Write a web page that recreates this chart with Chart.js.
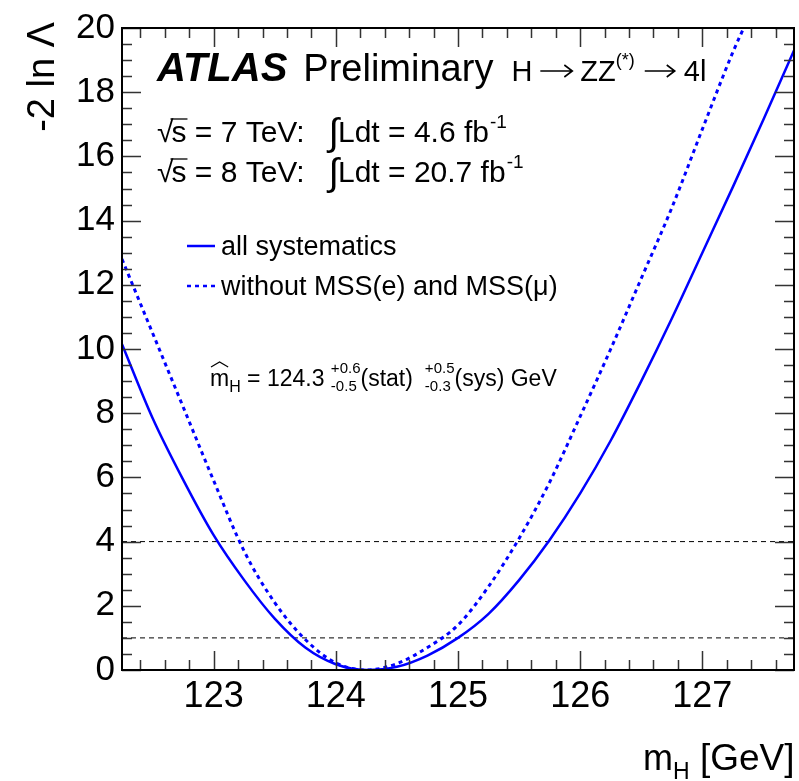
<!DOCTYPE html>
<html>
<head>
<meta charset="utf-8">
<script src="https://cdn.jsdelivr.net/npm/chart.js@4.4.1/dist/chart.umd.min.js"></script>
<style>
  body { margin: 0; background: #fff; }
  canvas { display: block; }
</style>
</head>
<body>
<canvas id="nllChart" width="799" height="781"></canvas>
<script>
// mass points (GeV)
const massAll = [122.25, 122.5, 122.75, 123.0, 123.25, 123.5, 123.75, 124.0, 124.25, 124.5, 124.75,
                 125.0, 125.25, 125.5, 125.75, 126.0, 126.25, 126.5, 126.75, 127.0, 127.25, 127.5, 127.75];
const nllAll = [10.15, 7.85, 5.93, 4.2, 2.8, 1.6, 0.7, 0.18, 0.0, 0.1, 0.45,
                1.0, 1.75, 2.8, 4.05, 5.5, 7.15, 9.0, 10.95, 13.0, 15.05, 17.15, 19.3];

const massNoMSS = [122.25, 122.5, 122.75, 123.0, 123.25, 123.5, 123.75, 124.0, 124.25, 124.5, 124.75,
                   125.0, 125.25, 125.5, 125.75, 126.0, 126.25, 126.5, 126.75, 127.0, 127.25, 127.35];
const nllNoMSS = [12.8, 10.5, 8.2, 5.9, 3.7, 2.1, 0.95, 0.22, 0.0, 0.2, 0.7,
                  1.4, 2.6, 4.1, 5.85, 7.9, 10.0, 12.2, 14.4, 16.85, 19.25, 20.1];

const refLevels = [1, 4];
const xTickLabels = [123, 124, 125, 126, 127];
const yTickLabels = [0, 2, 4, 6, 8, 10, 12, 14, 16, 18, 20];

const FONT = '"Liberation Sans", Arial, Helvetica, sans-serif';
const xMin = 122.25, xMax = 127.75;

function toPoints(xs, ys) {
    return xs.map((x, i) => ({ x: x, y: ys[i] }));
}

const datasets = [
    {
        label: 'all systematics',
        data: toPoints(massAll, nllAll),
        borderColor: '#0000ff',
        borderWidth: 2.5,
        pointRadius: 0,
        cubicInterpolationMode: 'monotone'
    },
    {
        label: 'without MSS(e) and MSS(\u03bc)',
        data: toPoints(massNoMSS, nllNoMSS),
        borderColor: '#0000ff',
        borderWidth: 3,
        borderDash: [4, 4],
        pointRadius: 0,
        cubicInterpolationMode: 'monotone'
    }
];
refLevels.forEach(function (lv) {
    datasets.push({
        label: 'ref' + lv,
        data: [{ x: xMin, y: lv }, { x: xMax, y: lv }],
        borderColor: '#000',
        borderWidth: 1,
        borderDash: [5, 4],
        pointRadius: 0
    });
});

// draws frame, inward ticks and all the text
const rootStyle = {
    id: 'rootStyle',
    afterDraw(chart) {
        const ctx = chart.ctx;
        const a = chart.chartArea;
        const xs = chart.scales.x, ys = chart.scales.y;
        ctx.save();

        // ticks
        ctx.strokeStyle = '#333';
        ctx.lineWidth = 1.5;
        ctx.beginPath();
        for (let i = 0; i <= 30; i++) {
            const v = 122.2 + i * 0.2;
            if (v < xMin - 1e-6 || v > xMax + 1e-6) continue;
            const px = Math.round(xs.getPixelForValue(v)) + 0.5;
            const major = Math.abs(v - Math.round(v)) < 1e-6;
            const len = major ? 19 : 10;
            ctx.moveTo(px, a.bottom); ctx.lineTo(px, a.bottom - len);
            ctx.moveTo(px, a.top); ctx.lineTo(px, a.top + len);
        }
        for (let i = 0; i <= 40; i++) {
            const v = i * 0.5;
            const py = Math.round(ys.getPixelForValue(v)) + 0.5;
            const major = i % 4 === 0;
            const len = major ? 19 : 10;
            ctx.moveTo(a.left, py); ctx.lineTo(a.left + len, py);
            ctx.moveTo(a.right, py); ctx.lineTo(a.right - len, py);
        }
        ctx.stroke();

        // frame
        ctx.strokeStyle = '#000';
        ctx.lineWidth = 2;
        ctx.strokeRect(a.left, a.top, a.right - a.left, a.bottom - a.top);

        ctx.fillStyle = '#000';
        ctx.textBaseline = 'alphabetic';
        ctx.textAlign = 'left';

        function rich(x, y, parts) {
            parts.forEach(function (p) {
                ctx.font = (p.style || '') + ' ' + p.size + 'px ' + FONT;
                ctx.fillText(p.t, x, y + (p.dy || 0));
                x += ctx.measureText(p.t).width;
            });
            return x;
        }
        function arrow(x, y, w) {
            ctx.save();
            ctx.strokeStyle = '#000';
            ctx.lineWidth = 1.6;
            ctx.beginPath();
            ctx.moveTo(x, y); ctx.lineTo(x + w, y);
            ctx.moveTo(x + w - 8, y - 6); ctx.lineTo(x + w, y); ctx.lineTo(x + w - 8, y + 6);
            ctx.stroke();
            ctx.restore();
            return x + w;
        }

        // title
        let x = rich(157, 81, [{ t: 'ATLAS', size: 40, style: 'italic bold' }]);
        x = rich(x + 16, 81, [{ t: 'Preliminary', size: 38 }]);
        x = rich(x + 18, 81, [{ t: 'H', size: 29 }]);
        x = arrow(x + 8, 71, 32);
        x = rich(x + 8, 81, [{ t: 'ZZ', size: 29 }, { t: '(*)', size: 18, dy: -15 }]);
        x = arrow(x + 10, 71, 30);
        rich(x + 9, 81, [{ t: '4l', size: 29 }]);

        // energies / lumi
        function lumiLine(y, e, l) {
            ctx.font = '30px ' + FONT;
            const sx = 157;
            ctx.fillText('\u221a', sx, y);
            const rw = ctx.measureText('\u221a').width;
            ctx.fillText('s', sx + rw - 2, y);
            const sw = ctx.measureText('s').width;
            ctx.lineWidth = 1.3;
            ctx.beginPath();
            ctx.moveTo(sx + rw - 3, y - 23);
            ctx.lineTo(sx + rw + sw - 1, y - 23);
            ctx.stroke();
            let xx = rich(sx + rw + sw - 2, y, [{ t: ' = ' + e + ' TeV:', size: 30 }]);
            xx = rich(xx + 24, y + 3, [{ t: '\u222b', size: 38 }]);
            xx = rich(xx - 1, y, [{ t: 'Ldt = ' + l + ' fb', size: 30 }]);
            rich(xx + 1, y, [{ t: '-1', size: 19, dy: -14 }]);
        }
        lumiLine(142, '7', '4.6');
        lumiLine(182, '8', '20.7');

        // legend
        ctx.strokeStyle = '#0000ff';
        ctx.lineWidth = 2.5;
        ctx.beginPath(); ctx.moveTo(187, 246); ctx.lineTo(215, 246); ctx.stroke();
        ctx.setLineDash([4, 4]);
        ctx.beginPath(); ctx.moveTo(187, 286); ctx.lineTo(215, 286); ctx.stroke();
        ctx.setLineDash([]);
        ctx.fillStyle = '#000';
        rich(221, 255, [{ t: 'all systematics', size: 27 }]);
        rich(221, 295, [{ t: 'without MSS(e) and MSS(\u03bc)', size: 27 }]);

        // fitted mass
        const by = 386;
        ctx.font = '23px ' + FONT;
        ctx.fillText('m', 210, by);
        const mw = ctx.measureText('m').width;
        ctx.lineWidth = 1.2;
        ctx.strokeStyle = '#000';
        ctx.beginPath();
        ctx.moveTo(211, by - 19); ctx.lineTo(210 + mw / 2, by - 24); ctx.lineTo(209 + mw, by - 19);
        ctx.stroke();
        x = rich(210 + mw, by, [{ t: 'H', size: 16, dy: 6 }]);
        x = rich(x, by, [{ t: ' = 124.3 ', size: 23 }]);
        function stack(xx, up, dn) {
            ctx.font = '15px ' + FONT;
            ctx.fillText(up, xx, by - 13);
            ctx.fillText(dn, xx, by + 5);
            return xx + Math.max(ctx.measureText(up).width, ctx.measureText(dn).width);
        }
        x = stack(x, '+0.6', '-0.5');
        x = rich(x, by, [{ t: '(stat)', size: 23 }]);
        x = stack(x + 12, '+0.5', '-0.3');
        rich(x, by, [{ t: '(sys) GeV', size: 23 }]);

        // axis titles
        ctx.save();
        ctx.translate(54, 22);
        ctx.rotate(-Math.PI / 2);
        ctx.textAlign = 'right';
        ctx.font = '38px ' + FONT;
        ctx.fillText('-2 ln \u039b', 0, 0);
        ctx.restore();

        ctx.textAlign = 'left';
        x = rich(643, 770, [{ t: 'm', size: 36 }]);
        rich(x, 770, [{ t: 'H', size: 23, dy: 9 }, { t: ' [GeV]', size: 37 }]);

        ctx.restore();
    }
};

new Chart(document.getElementById('nllChart').getContext('2d'), {
    type: 'line',
    data: { datasets: datasets },
    options: {
        responsive: false,
        animation: false,
        layout: { padding: { top: 25, right: 5, left: 0, bottom: 0 } },
        plugins: {
            legend: { display: false },
            tooltip: { enabled: false }
        },
        scales: {
            x: {
                type: 'linear',
                min: xMin,
                max: xMax,
                grid: { display: false, drawTicks: false },
                border: { display: false },
                afterBuildTicks: function (s) { s.ticks = xTickLabels.map(v => ({ value: v })); },
                afterFit: function (s) { s.height = 111; },
                ticks: {
                    padding: 5,
                    color: '#000',
                    font: { family: FONT, size: 36 },
                    maxRotation: 0,
                    callback: function (v) { return String(v); }
                }
            },
            y: {
                type: 'linear',
                min: 0,
                max: 20,
                grid: { display: false, drawTicks: false },
                border: { display: false },
                afterBuildTicks: function (s) { s.ticks = yTickLabels.map(v => ({ value: v })); },
                afterFit: function (s) { s.width = 122; },
                ticks: {
                    padding: 7,
                    color: '#000',
                    font: { family: FONT, size: 35 },
                    callback: function (v) { return String(v); }
                }
            }
        }
    },
    plugins: [rootStyle]
});
</script>
</body>
</html>
